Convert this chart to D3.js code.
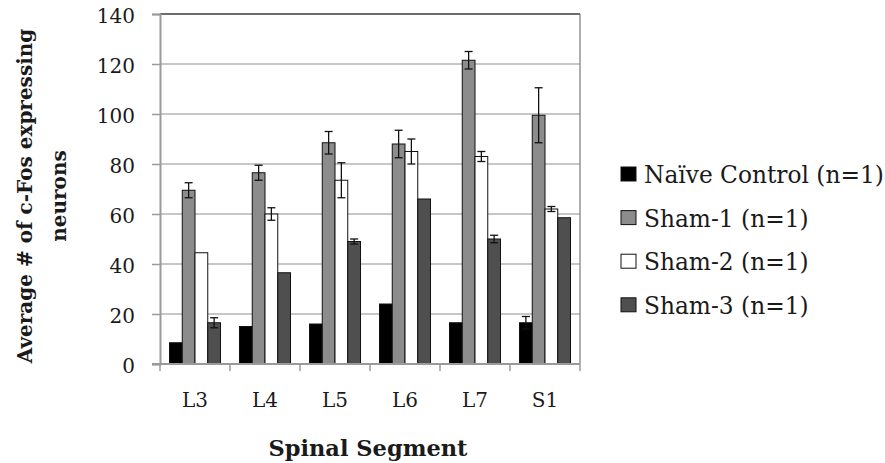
<!DOCTYPE html>
<html>
<head>
<meta charset="utf-8">
<script src="https://cdn.jsdelivr.net/npm/d3@7"></script>
<style>
  body { margin: 0; background: #fff; }
  text { font-family: "DejaVu Serif", serif; fill: #1a1a1a; }
</style>
</head>
<body>
<div id="chart"></div>
<script>
// --- data ---
const segments = ["L3", "L4", "L5", "L6", "L7", "S1"];
const seriesNames = ["Naïve Control (n=1)", "Sham-1 (n=1)", "Sham-2 (n=1)", "Sham-3 (n=1)"];
const naive    = [8.5, 15, 16, 24, 16.5, 16.5];
const naiveErr = [0, 0, 0, 0, 0, 2.5];
const sham1    = [69.5, 76.5, 88.5, 88, 121.5, 99.5];
const sham1Err = [3, 3, 4.5, 5.5, 3.5, 11];
const sham2    = [44.5, 60, 73.5, 85, 83, 62];
const sham2Err = [0, 2.5, 7, 5, 2, 1];
const sham3    = [16.5, 36.5, 49, 66, 50, 58.5];
const sham3Err = [2, 0, 1, 0, 1.5, 0];
const yTicks = [0, 20, 40, 60, 80, 100, 120, 140];

const seriesColors = ["#000000", "#8c8c8c", "#ffffff", "#4f4f4f"];
const values = [naive, sham1, sham2, sham3];
const errors = [naiveErr, sham1Err, sham2Err, sham3Err];

const W = 885, H = 463;
const plot = { left: 160, right: 580, top: 14, bottom: 364 };

const svg = d3.select("#chart").append("svg")
    .attr("width", W)
    .attr("height", H);

const x0 = d3.scaleBand().domain(segments).range([plot.left, plot.right]).padding(0);
const x1 = d3.scaleBand().domain(seriesNames).range([9.5, x0.bandwidth() - 9.5]).padding(0);
const y = d3.scaleLinear().domain([0, 140]).range([plot.bottom, plot.top]);

// gridlines
svg.append("g")
    .selectAll("line")
    .data(yTicks.filter(t => t > 0 && t < 140))
    .join("line")
    .attr("x1", plot.left).attr("x2", plot.right)
    .attr("y1", d => y(d)).attr("y2", d => y(d))
    .attr("stroke", "#b4b4b4")
    .attr("stroke-width", 1.5);

// plot frame: top and right
svg.append("line")
    .attr("x1", plot.left).attr("x2", plot.right)
    .attr("y1", y(140)).attr("y2", y(140))
    .attr("stroke", "#3c3c3c").attr("stroke-width", 1.5);
svg.append("line")
    .attr("x1", plot.right).attr("x2", plot.right)
    .attr("y1", y(140)).attr("y2", y(0))
    .attr("stroke", "#7a7a7a").attr("stroke-width", 1.2);

// bars
const rows = [];
segments.forEach((seg, i) => {
    seriesNames.forEach((s, j) => {
        rows.push({ seg, s, j, v: values[j][i], e: errors[j][i] });
    });
});

svg.append("g")
    .selectAll("rect")
    .data(rows)
    .join("rect")
    .attr("x", d => x0(d.seg) + x1(d.s))
    .attr("y", d => y(d.v))
    .attr("width", x1.bandwidth())
    .attr("height", d => y(0) - y(d.v))
    .attr("fill", d => seriesColors[d.j])
    .attr("stroke", "#111")
    .attr("stroke-width", 1);

// error bars (both directions)
const errG = svg.append("g")
    .selectAll("g")
    .data(rows.filter(d => d.e > 0))
    .join("g")
    .attr("stroke", "#111")
    .attr("stroke-width", 1.3);
const cx = d => x0(d.seg) + x1(d.s) + x1.bandwidth() / 2;
errG.append("line")
    .attr("x1", cx).attr("x2", cx)
    .attr("y1", d => y(d.v + d.e)).attr("y2", d => y(d.v - d.e));
errG.append("line")
    .attr("x1", d => cx(d) - 4).attr("x2", d => cx(d) + 4)
    .attr("y1", d => y(d.v + d.e)).attr("y2", d => y(d.v + d.e));
errG.append("line")
    .attr("x1", d => cx(d) - 4).attr("x2", d => cx(d) + 4)
    .attr("y1", d => y(d.v - d.e)).attr("y2", d => y(d.v - d.e));

// y axis
const yAxis = svg.append("g")
    .attr("transform", `translate(${plot.left},0)`)
    .call(d3.axisLeft(y).tickValues(yTicks).tickSize(8).tickPadding(17));
yAxis.select(".domain").attr("stroke", "#9a9a9a").attr("stroke-width", 2);
yAxis.selectAll(".tick line").attr("stroke", "#9a9a9a").attr("stroke-width", 1.5);
yAxis.selectAll(".tick text")
    .attr("font-size", 20)
    .attr("font-family", "DejaVu Serif")
    .attr("fill", "#1a1a1a")
    .attr("dy", "0.42em");

// x axis
const xAxis = svg.append("g")
    .attr("transform", `translate(0,${plot.bottom})`)
    .call(d3.axisBottom(x0).tickSize(0).tickPadding(29));
xAxis.select(".domain").attr("stroke", "#9a9a9a").attr("stroke-width", 2)
    .attr("d", `M${plot.left - 8},0H${plot.right}`);
xAxis.selectAll(".tick text")
    .attr("font-size", 20)
    .attr("font-family", "DejaVu Serif")
    .attr("fill", "#1a1a1a");
// category boundary ticks
svg.append("g")
    .selectAll("line")
    .data(segments.concat(["end"]))
    .join("line")
    .attr("x1", (d, i) => i < segments.length ? x0(d) : plot.right)
    .attr("x2", (d, i) => i < segments.length ? x0(d) : plot.right)
    .attr("y1", plot.bottom).attr("y2", plot.bottom + 7)
    .attr("stroke", "#9a9a9a").attr("stroke-width", 1.5);

// axis titles
svg.append("text")
    .attr("x", (plot.left + plot.right) / 2 - 2)
    .attr("y", 456)
    .attr("text-anchor", "middle")
    .attr("font-weight", "bold")
    .attr("font-size", 22.5)
    .text("Spinal Segment");

const yTitle = svg.append("text")
    .attr("transform", "translate(0,196) rotate(-90)")
    .attr("text-anchor", "middle")
    .attr("font-weight", "bold")
    .attr("font-size", 20);
yTitle.append("tspan").attr("x", 0).attr("y", 32).text("Average # of c-Fos expressing");
yTitle.append("tspan").attr("x", 0).attr("y", 66).text("neurons");

// legend
const legend = svg.append("g")
    .selectAll("g")
    .data(seriesNames)
    .join("g")
    .attr("transform", (d, i) => `translate(621,${183 + i * 43.6})`);
legend.append("rect")
    .attr("x", 0).attr("y", -16)
    .attr("width", 15).attr("height", 14)
    .attr("fill", (d, i) => seriesColors[i])
    .attr("stroke", "#111").attr("stroke-width", 1);
legend.append("text")
    .attr("x", 23).attr("y", 0)
    .attr("font-size", 23.3)
    .text(d => d);
</script>
</body>
</html>
